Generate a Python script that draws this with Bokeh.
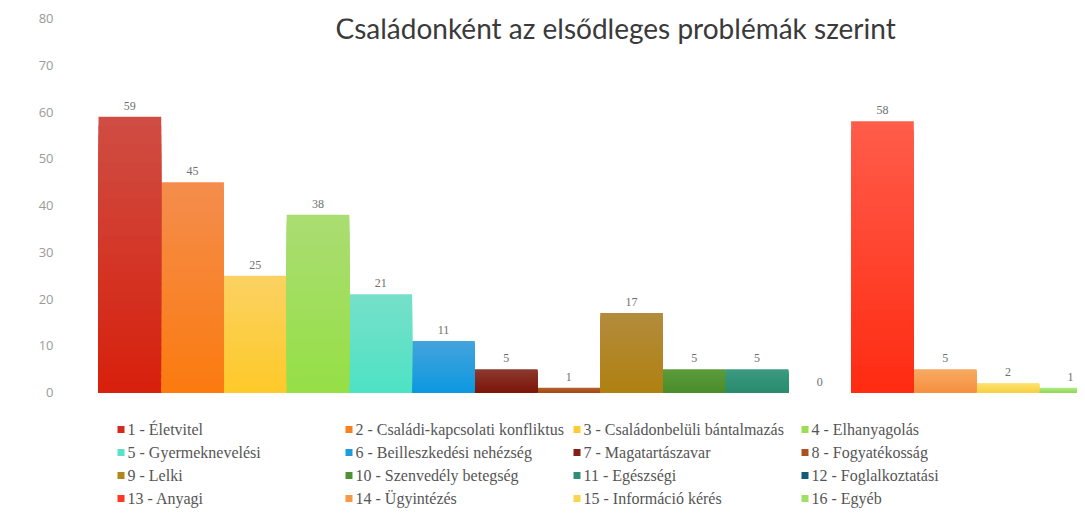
from bokeh.plotting import figure
from bokeh.models import (ColumnDataSource, Range1d, LabelSet, Label, SingleIntervalTicker)
from bokeh.layouts import column
from bokeh.core.properties import value
from bokeh.embed import file_html
from bokeh.resources import INLINE

# ---- data ----
categories = ["1 - Életvitel", "2 - Családi-kapcsolati konfliktus",
              "3 - Családonbelüli bántalmazás", "4 - Elhanyagolás",
              "5 - Gyermeknevelési", "6 - Beilleszkedési nehézség",
              "7 - Magatartászavar", "8 - Fogyatékosság",
              "9 - Lelki", "10 - Szenvedély betegség",
              "11 - Egészségi", "12 - Foglalkoztatási",
              "13 - Anyagi", "14 - Ügyintézés",
              "15 - Információ kérés", "16 - Egyéb"]
values = [59, 45, 25, 38, 21, 11, 5, 1, 17, 5, 5, 0, 58, 5, 2, 1]
title_text = "Családonként az elsődleges problémák szerint"

top_colors = ["#cf4d43", "#f48d4c", "#fbd261", "#aadd72", "#76e0c9", "#44a3dc",
              "#8c3a30", "#b26232", "#b28c3c", "#5c9b3c", "#3c9b82", "#1f6690",
              "#ff5c4a", "#f7aa62", "#fde274", "#b2e98a"]
bottom_colors = ["#d71f0b", "#fb7a0e", "#fec928", "#95df45", "#4de2c4", "#0b98e0",
                 "#7d1408", "#a84a10", "#b08010", "#4a8c2a", "#2a8a6e", "#14557f",
                 "#ff2a10", "#f69040", "#f8d040", "#8ed850"]
legend_colors = ["#d42a1c", "#f98020", "#fdcb34", "#9bde52", "#5ae1c6", "#1f9ce0",
                 "#82201a", "#ab5220", "#b0861e", "#509233", "#2f8f74", "#17587f",
                 "#ff3826", "#f69848", "#f9d64e", "#9edf66"]

x = list(range(1, len(values) + 1))

def hex2rgb(h):
    h = h.lstrip("#")
    return tuple(int(h[i:i + 2], 16) for i in (0, 2, 4))

def mix(c1, c2, t):
    a, b = hex2rgb(c1), hex2rgb(c2)
    return "#%02x%02x%02x" % tuple(int(round(a[k] + (b[k] - a[k]) * t)) for k in range(3))

W = 1077
LEFT = 60
p = figure(width=W, height=400, output_backend="svg", toolbar_location=None,
           x_range=Range1d(-0.106, 16.11), y_range=Range1d(0, 80),
           min_border_left=LEFT, min_border_top=18, min_border_bottom=8,
           min_border_right=0, outline_line_color=None)

# gradient bars: overlapping bars from full height down, lighter at top
N = 30
for k in range(N, 0, -1):
    t = 1 - k / N
    src = ColumnDataSource(dict(
        x=x,
        top=[v * k / N for v in values],
        color=[mix(tc, bc, t) for tc, bc in zip(top_colors, bottom_colors)],
    ))
    p.vbar(x="x", top="top", bottom=0, width=1.0, source=src,
           fill_color="color", line_color=None)

# value labels
lab_src = ColumnDataSource(dict(x=x, y=values, text=[str(v) for v in values]))
p.add_layout(LabelSet(x="x", y="y", text="text", source=lab_src, y_offset=7,
                      text_align="center", text_baseline="bottom",
                      text_font="Open Sans", text_font_size="12px",
                      text_color="#6f6f6f"))

# axes
p.xaxis.visible = False
p.yaxis.ticker = SingleIntervalTicker(interval=10)
p.yaxis.axis_line_color = None
p.yaxis.major_tick_line_color = None
p.yaxis.minor_tick_line_color = None
p.yaxis.major_label_text_font = "Open Sans"
p.yaxis.major_label_text_font_size = "13px"
p.yaxis.major_label_text_color = "#9a9a9a"
p.yaxis.major_label_standoff = 1
p.xgrid.grid_line_color = None
p.ygrid.grid_line_color = None

# title (only partly visible in the reference; kept readable here)
p.add_layout(Label(x=275, y=382, x_units="screen", y_units="screen",
                   text=title_text, text_font="Lato", text_font_size="28px",
                   text_color="#3a3a3a", text_baseline="top"))

# legend drawn as its own panel (4 columns, row-major)
LH = 109
lg = figure(width=W, height=LH, output_backend="svg", toolbar_location=None,
            x_range=Range1d(LEFT, W), y_range=Range1d(LH, 0),
            min_border_left=LEFT, min_border_right=0, min_border_top=0,
            min_border_bottom=0, outline_line_color=None)
lg.axis.visible = False
lg.grid.visible = False
ncol = 4
col_w = 228
lx = [117 + (i % ncol) * col_w for i in range(len(categories))]
ly = [29 + (i // ncol) * 23 for i in range(len(categories))]
lsrc = ColumnDataSource(dict(x=[v + 3.5 for v in lx], tx=[v + 10 for v in lx], y=ly,
                             text=categories, color=legend_colors))
lg.scatter(x="x", y="y", source=lsrc, marker="square", size=7,
           fill_color="color", line_color=None)
lg.text(x="tx", y="y", text="text", source=lsrc, text_font=value("Liberation Serif"),
        text_font_size="16px", text_color="#555555", text_baseline="middle",
        text_align="left")

layout = column(p, lg, spacing=0)
open("out.html", "w").write(file_html(layout, INLINE))
